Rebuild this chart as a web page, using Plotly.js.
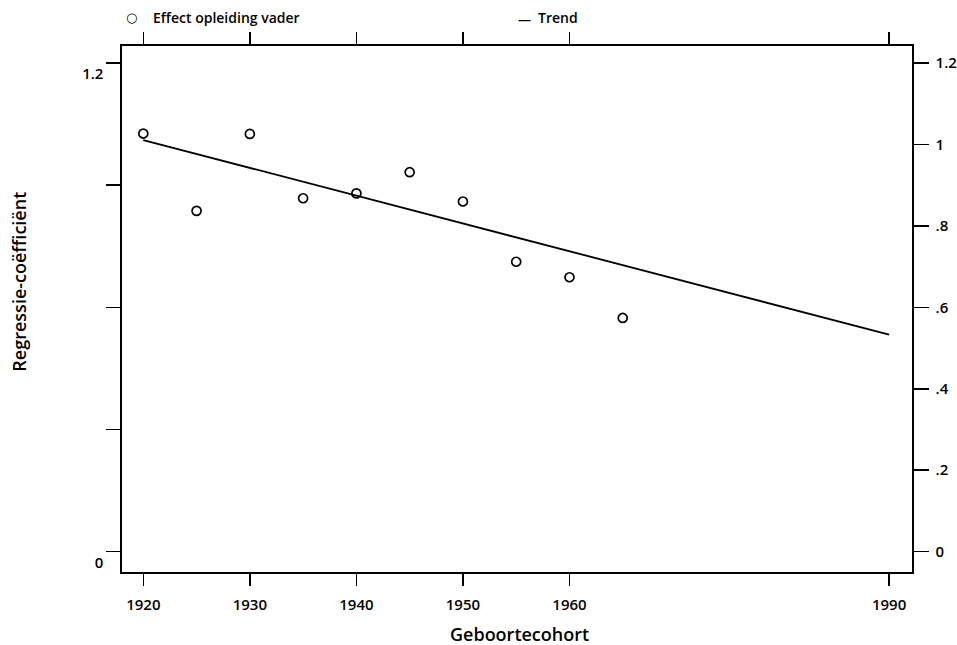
<!DOCTYPE html>
<html>
<head>
<meta charset="utf-8">
<script src="https://cdn.plot.ly/plotly-3.0.1.min.js"></script>
<style>
  html, body { margin: 0; padding: 0; background: #fff; }
  #chart { width: 957px; height: 645px; }
</style>
</head>
<body>
<div id="chart"></div>
<script>
// Data
const cohortYears = [1920, 1925, 1930, 1935, 1940, 1945, 1950, 1955, 1960, 1965];
const effectValues = [1.027, 0.837, 1.026, 0.868, 0.880, 0.932, 0.860, 0.712, 0.674, 0.574];
const trendYears = [1920, 1990];
const trendValues = [1.011, 0.533];

const xTickVals = [1920, 1930, 1940, 1950, 1960, 1990];
const xTickText = ['1920', '1930', '1940', '1950', '1960', '1990'];
const leftTickVals = [0, 0.3, 0.6, 0.9, 1.2];
const leftTickText = ['0', '', '', '', '1.2'];
const rightTickVals = [0, 0.2, 0.4, 0.6, 0.8, 1, 1.2];
const rightTickText = ['0', '.2', '.4', '.6', '.8', '1', '1.2'];

const FONT = '"Open Sans", "DejaVu Sans", sans-serif';
const W = 600;

const traces = [
  {
    x: cohortYears, y: effectValues, type: 'scatter', mode: 'markers',
    name: 'Effect opleiding vader',
    marker: { symbol: 'circle-open', size: 9, color: '#000', line: { width: 1.7, color: '#000' } },
    xaxis: 'x', yaxis: 'y', showlegend: false
  },
  {
    x: trendYears, y: trendValues, type: 'scatter', mode: 'lines',
    name: 'Trend',
    line: { color: '#000', width: 1.8 },
    xaxis: 'x', yaxis: 'y2', showlegend: false
  }
];

const yRange = [-0.05, 1.242];

const layout = {
  width: 957, height: 645,
  margin: { l: 122, r: 45, t: 46, b: 73, pad: 0 },
  paper_bgcolor: '#fff', plot_bgcolor: '#fff',
  font: { family: FONT, color: '#000', size: 15, weight: W },
  showlegend: false,
  xaxis: {
    range: [1918.0, 1992.15],
    tickmode: 'array', tickvals: xTickVals, ticktext: xTickText,
    ticks: 'outside', ticklen: 12, tickwidth: 1.5, tickcolor: '#000',
    showline: true, linewidth: 1.6, linecolor: '#000', mirror: 'ticks',
    showgrid: false, zeroline: false,
    tickfont: { family: FONT, size: 15, color: '#000', weight: W },
    ticklabelstandoff: 6
  },
  yaxis: {
    range: yRange,
    tickmode: 'array', tickvals: leftTickVals, ticktext: leftTickText,
    ticks: 'outside', ticklen: 14, tickwidth: 1.5, tickcolor: '#000',
    showline: true, linewidth: 1.6, linecolor: '#000',
    showgrid: false, zeroline: false,
    tickfont: { family: FONT, size: 15, color: '#000', weight: W },
    ticklabelshift: 11, ticklabelstandoff: 0
  },
  yaxis2: {
    range: yRange, overlaying: 'y', side: 'right',
    tickmode: 'array', tickvals: rightTickVals, ticktext: rightTickText,
    ticks: 'outside', ticklen: 15, tickwidth: 1.5, tickcolor: '#000',
    showline: true, linewidth: 1.6, linecolor: '#000',
    showgrid: false, zeroline: false,
    tickfont: { family: FONT, size: 15, color: '#000', weight: W },
    ticklabelstandoff: 4
  },
  annotations: [
    { text: 'Geboortecohort', xref: 'paper', yref: 'paper',
      x: 0.503, y: -0.118, xanchor: 'center', yanchor: 'middle', showarrow: false,
      font: { family: FONT, size: 18, color: '#000', weight: W } },
    { text: 'Regressie-coëfficiënt', xref: 'paper', yref: 'paper', textangle: -90,
      x: -0.1304, y: 0.552, xanchor: 'center', yanchor: 'middle', showarrow: false,
      font: { family: FONT, size: 18, color: '#000', weight: W } },
    { text: '○', xref: 'paper', yref: 'paper',
      x: (131 - 122) / 790, y: (572 - 17) / 526, xanchor: 'center', yanchor: 'middle', showarrow: false,
      font: { family: FONT, size: 13, color: '#000', weight: 'bold' } },
    { text: 'Effect opleiding vader', xref: 'paper', yref: 'paper',
      x: (151 - 122) / 790, y: (572 - 18) / 526, xanchor: 'left', yanchor: 'middle', showarrow: false,
      font: { family: FONT, size: 14, color: '#000', weight: W } },
    { text: '—', xref: 'paper', yref: 'paper',
      x: (524 - 122) / 790, y: (572 - 19) / 526, xanchor: 'center', yanchor: 'middle', showarrow: false,
      font: { family: FONT, size: 13, color: '#000', weight: W } },
    { text: 'Trend', xref: 'paper', yref: 'paper',
      x: (536 - 122) / 790, y: (572 - 18) / 526, xanchor: 'left', yanchor: 'middle', showarrow: false,
      font: { family: FONT, size: 14, color: '#000', weight: W } }
  ]
};

Plotly.newPlot('chart', traces, layout, { displayModeBar: false, staticPlot: true });
</script>
</body>
</html>
